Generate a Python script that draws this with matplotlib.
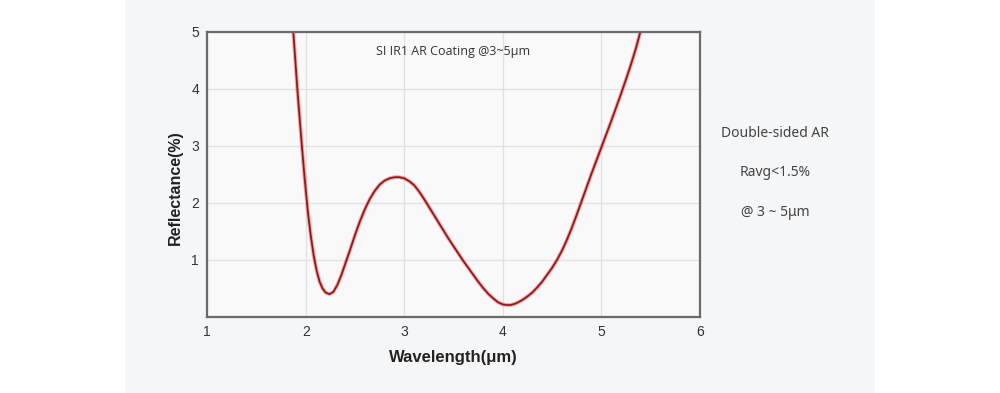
import matplotlib.pyplot as plt
from matplotlib.patches import Rectangle

# curve
wavelength = [1.873, 1.914, 1.96, 1.99, 2.02, 2.05, 2.08, 2.11, 2.14, 2.17, 2.20, 2.24, 2.28,
              2.32, 2.36, 2.40, 2.45, 2.50, 2.55, 2.60, 2.65, 2.70, 2.75, 2.80, 2.85,
              2.90, 2.95, 3.00, 3.05, 3.10, 3.15, 3.20, 3.25, 3.30, 3.35, 3.40, 3.45,
              3.50, 3.55, 3.60, 3.65, 3.70, 3.75, 3.80, 3.85, 3.90, 3.95, 4.00, 4.04,
              4.08, 4.12, 4.16, 4.20, 4.25, 4.30, 4.35, 4.40, 4.45, 4.50, 4.55, 4.60,
              4.65, 4.70, 4.75, 4.80, 4.85, 4.90, 4.95, 5.00, 5.05, 5.10, 5.15, 5.20,
              5.25, 5.30, 5.35, 5.40]
reflectance = [5.0, 4.0, 3.0, 2.4, 1.86, 1.43, 1.08, 0.81, 0.62, 0.5, 0.43, 0.40, 0.44,
               0.56, 0.73, 0.93, 1.18, 1.44, 1.68, 1.89, 2.07, 2.21, 2.32, 2.39, 2.43,
               2.45, 2.45, 2.43, 2.38, 2.31, 2.20, 2.07, 1.93, 1.79, 1.65, 1.51, 1.37,
               1.24, 1.11, 0.98, 0.86, 0.74, 0.62, 0.51, 0.41, 0.33, 0.26, 0.22, 0.21,
               0.21, 0.23, 0.26, 0.30, 0.36, 0.43, 0.52, 0.62, 0.74, 0.86, 1.00, 1.16,
               1.35, 1.56, 1.79, 2.03, 2.27, 2.51, 2.74, 2.97, 3.20, 3.43, 3.67, 3.91,
               4.16, 4.42, 4.70, 5.02]

x_ticks = [1, 2, 3, 4, 5, 6]
y_ticks = [1, 2, 3, 4, 5]
side_notes = ["Double-sided AR", "Ravg<1.5%", "@ 3 ~ 5μm"]

fig = plt.figure(figsize=(10, 3.93), dpi=100)
fig.patch.set_facecolor('white')
# light grey panel behind the chart
fig.patches.append(Rectangle((0.125, 0), 0.75, 1, transform=fig.transFigure,
                             facecolor='#f5f6f8', edgecolor='none', zorder=-10))

ax = fig.add_axes([0.2073, 0.1934, 0.4925, 0.7259])
ax.set_facecolor('#f9f9fa')

# pink halo + dark red core
ax.plot(wavelength, reflectance, color='#f04848', lw=2.8, alpha=0.45, solid_capstyle='round', zorder=3)
ax.plot(wavelength, reflectance, color='#8e1b1b', lw=1.3, solid_capstyle='round', zorder=4)

ax.set_xlim(1, 6)
ax.set_ylim(0, 5)
ax.set_xticks(x_ticks)
ax.set_yticks(y_ticks)
ax.tick_params(length=0, labelsize=10, colors='#333333', pad=6)
for lab in ax.get_xticklabels() + ax.get_yticklabels():
    lab.set_family('Liberation Sans')
ax.grid(True, color='#e1e1e3', lw=0.9)
ax.set_axisbelow(True)
for sp in ax.spines.values():
    sp.set_color('#6a6a6a')
    sp.set_linewidth(1.6)
    sp.set_zorder(5)

ax.set_xlabel('Wavelength(μm)', fontsize=12, fontweight='bold', family='Liberation Sans',
              color='#222222', labelpad=8)
ax.set_ylabel('Reflectance(%)', fontsize=11.5, fontweight='bold', family='Liberation Sans',
              color='#222222')
ax.yaxis.set_label_coords(-0.049, 0.452)
ax.text(0.5, 0.955, 'SI IR1 AR Coating @3~5μm', transform=ax.transAxes, ha='center', va='top',
        fontsize=9, family='Open Sans', color='#333333')

for i, note in enumerate(side_notes):
    fig.text(0.775, 1 - (133 + i * 39.5) / 393, note, ha='center', va='center',
             fontsize=10, family='Noto Sans', color='#444444')

fig.savefig('out.png', dpi=100, facecolor=fig.get_facecolor())
